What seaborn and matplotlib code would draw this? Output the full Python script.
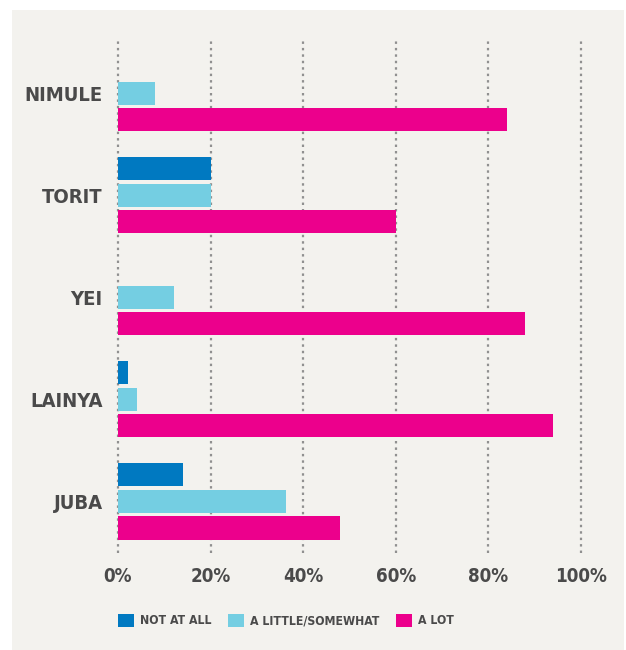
import matplotlib
matplotlib.use("Agg")
import matplotlib.pyplot as plt
import matplotlib.patches as mpatches
import seaborn as sns
import pandas as pd

# values (percent of respondents)
towns = ['NIMULE', 'TORIT', 'YEI', 'LAINYA', 'JUBA']
responses = ['NOT AT ALL', 'A LITTLE/SOMEWHAT', 'A LOT']
not_at_all = [0, 20, 0, 2.2, 14]
a_little = [8, 20, 12.2, 4.1, 36.2]
a_lot = [84, 60, 88, 94, 48]
x_ticks = [0, 20, 40, 60, 80, 100]
x_labels = ['0%', '20%', '40%', '60%', '80%', '100%']

colors = {'NOT AT ALL': '#0079C1', 'A LITTLE/SOMEWHAT': '#74CEE2', 'A LOT': '#EC008C'}
bg = '#F3F2EE'
txt = '#4a4a4a'

df = pd.DataFrame({
    'town': towns * 3,
    'response': [r for r in responses for _ in towns],
    'value': not_at_all + a_little + a_lot,
})

sns.set_theme(style="white")
plt.rcParams['font.family'] = ['DejaVu Sans']
plt.rcParams['font.stretch'] = 'condensed'
plt.rcParams['font.weight'] = 'bold'

W, H = 626, 650
fig = plt.figure(figsize=(W / 100, H / 100), dpi=100, facecolor='white')
# light panel behind the chart
fig.patches.append(mpatches.Rectangle((12 / W, 0), 612 / W, 640 / H,
                                      transform=fig.transFigure, facecolor=bg,
                                      edgecolor='none', zorder=-5))

ax = fig.add_axes([118 / W, 1 - 553 / H, 463 / W, 513 / H])
ax.set_facecolor('none')

sns.barplot(data=df, x='value', y='town', hue='response', order=towns,
            hue_order=responses, palette=colors, orient='h',
            width=0.78, gap=0.13, saturation=1, linewidth=0, ax=ax)

ax.set_xlim(0, 100)
ax.set_ylim(4.505, -0.52)
ax.set_xticks(x_ticks)
ax.set_xticklabels(x_labels)
ax.set_xlabel('')
ax.set_ylabel('')
for s in ax.spines.values():
    s.set_visible(False)
ax.set_axisbelow(True)
ax.xaxis.grid(True, color='#909090', linestyle=(0, (1.1, 1.8)), linewidth=1.6)
ax.yaxis.grid(False)
for gl in ax.get_xgridlines():
    gl.set_clip_on(False)
ax.tick_params(axis='x', length=0, pad=10, labelsize=13.5, labelcolor=txt)
ax.tick_params(axis='y', length=0, pad=11, labelsize=14.5, labelcolor=txt)

sns.move_legend(ax, loc='upper left', bbox_to_anchor=(0, -0.118), ncol=3,
                frameon=False, title=None, fontsize=8.8, borderpad=0,
                borderaxespad=0, handlelength=1.3, handleheight=1.3,
                handletextpad=0.5, columnspacing=1.35)
for t in ax.get_legend().get_texts():
    t.set_color(txt)

fig.savefig('out.png', dpi=100, facecolor='white')
